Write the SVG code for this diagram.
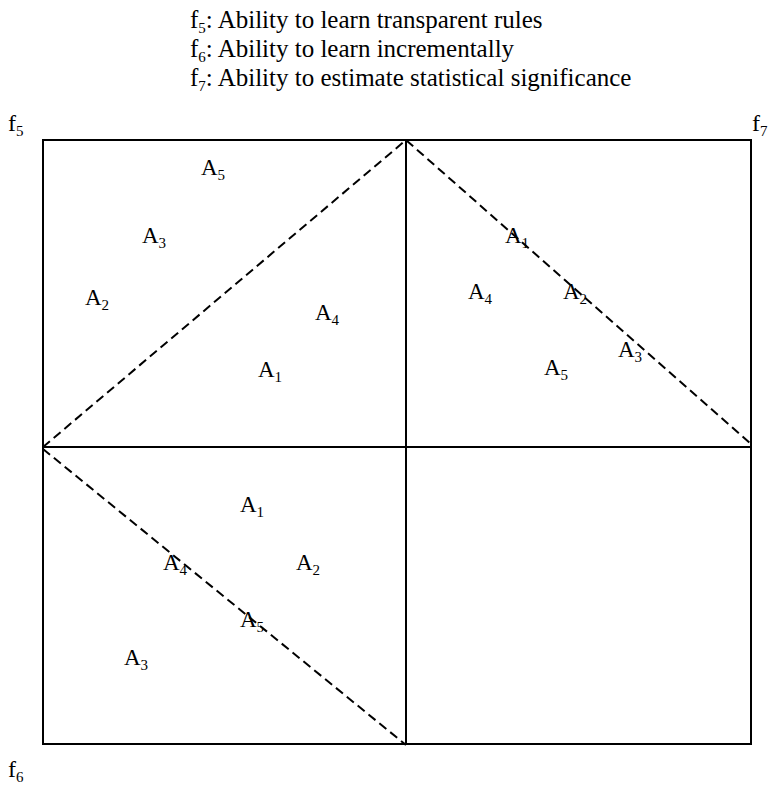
<svg xmlns="http://www.w3.org/2000/svg" width="777" height="794" viewBox="0 0 777 794">
<style>
text{font-family:"Liberation Serif","Times New Roman",serif;fill:#000}
.h{font-size:25px}
.c{font-size:24px}
.a{font-size:23px;text-anchor:middle}
.s{font-size:15px}
.solid{stroke:#000;stroke-width:2;fill:none}
.dash{stroke:#000;stroke-width:2;fill:none;stroke-dasharray:9 5}
</style>
<rect width="777" height="794" fill="#fff"/>
<g id="legend">
<text class="h" x="190" y="28">f<tspan class="s" dy="5">5</tspan><tspan dy="-5">: Ability to learn transparent rules</tspan></text>
<text class="h" x="190" y="57">f<tspan class="s" dy="5">6</tspan><tspan dy="-5">: Ability to learn incrementally</tspan></text>
<text class="h" x="190" y="86">f<tspan class="s" dy="5">7</tspan><tspan dy="-5">: Ability to estimate statistical significance</tspan></text>
</g>
<g id="axes-labels">
<text class="c" x="8" y="131">f<tspan class="s" dy="5">5</tspan></text>
<text class="c" x="752" y="131">f<tspan class="s" dy="5">7</tspan></text>
<text class="c" x="8" y="777">f<tspan class="s" dy="5">6</tspan></text>
</g>
<g id="connectors">
<rect class="solid" x="43" y="140" width="708" height="604"/>
<line class="solid" x1="406" y1="140" x2="406" y2="744"/>
<line class="solid" x1="43" y1="447" x2="751" y2="447"/>
<polyline class="dash" points="43,447 406,140 751,444"/>
<line class="dash" x1="43" y1="449" x2="406" y2="745"/>
</g>
<g id="q-top-left">
<text class="a" x="213" y="175">A<tspan class="s" dy="5">5</tspan></text>
<text class="a" x="154" y="243">A<tspan class="s" dy="5">3</tspan></text>
<text class="a" x="97" y="305">A<tspan class="s" dy="5">2</tspan></text>
<text class="a" x="327" y="320">A<tspan class="s" dy="5">4</tspan></text>
<text class="a" x="270" y="377">A<tspan class="s" dy="5">1</tspan></text>
</g>
<g id="q-top-right">
<text class="a" x="517" y="243">A<tspan class="s" dy="5">1</tspan></text>
<text class="a" x="480" y="299">A<tspan class="s" dy="5">4</tspan></text>
<text class="a" x="575" y="299">A<tspan class="s" dy="5">2</tspan></text>
<text class="a" x="630" y="357">A<tspan class="s" dy="5">3</tspan></text>
<text class="a" x="556" y="375">A<tspan class="s" dy="5">5</tspan></text>
</g>
<g id="q-bottom-left">
<text class="a" x="252" y="512">A<tspan class="s" dy="5">1</tspan></text>
<text class="a" x="175" y="570">A<tspan class="s" dy="5">4</tspan></text>
<text class="a" x="308" y="570">A<tspan class="s" dy="5">2</tspan></text>
<text class="a" x="252" y="627">A<tspan class="s" dy="5">5</tspan></text>
<text class="a" x="136" y="665">A<tspan class="s" dy="5">3</tspan></text>
</g>
</svg>
